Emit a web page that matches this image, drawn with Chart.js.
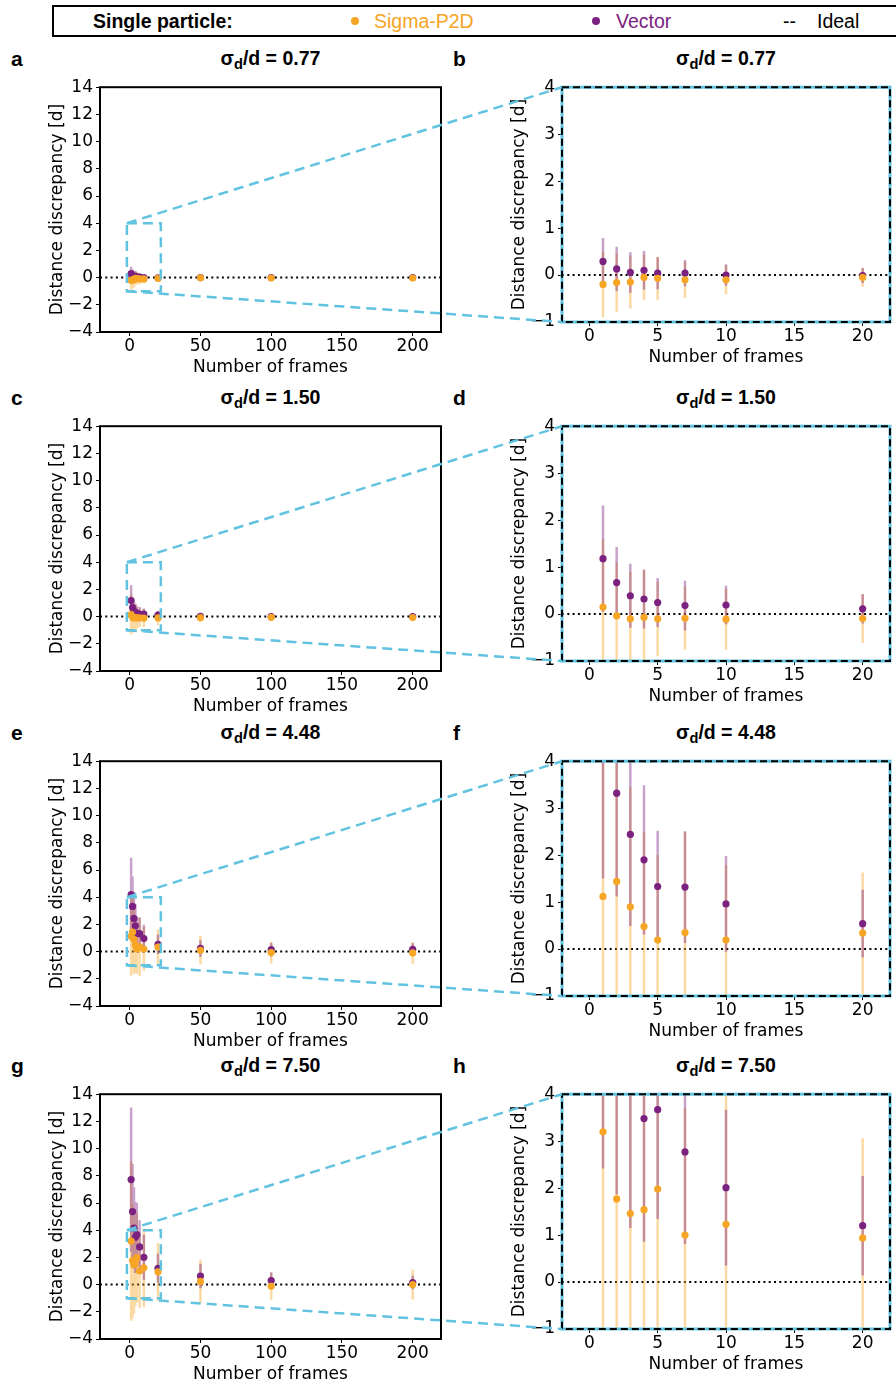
<!DOCTYPE html>
<html lang="en">
<head>
<meta charset="UTF-8">
<title>Distance discrepancy vs number of frames</title>
<script src="https://cdn.jsdelivr.net/npm/chart.js"></script>
<style>
    body {
        margin: 0;
        width: 896px;
        height: 1385px;
        overflow: hidden;
        background: #fff;
        position: relative;
        font-family: "Liberation Sans", Arial, sans-serif;
        color: #000;
    }
    canvas { position: absolute; }
    #legend {
        position: absolute;
        left: 52px;
        top: 5px;
        width: 900px;
        height: 28px;
        border: 2px solid #000;
    }
    .lg { position: absolute; top: 2px; font-size: 19.5px; line-height: 24px; white-space: nowrap; }
    .dot { position: absolute; top: 10px; width: 8px; height: 8px; border-radius: 50%; }
    .letter { position: absolute; font-weight: bold; font-size: 21px; line-height: 21px; }
    .title { position: absolute; font-weight: bold; font-size: 19.5px; line-height: 19.5px; text-align: center; width: 300px; white-space: nowrap; }
    .title sub { font-size: 75%; vertical-align: -0.3em; line-height: 0; }
    #overlay { position: absolute; left: 0; top: 0; z-index: 5; pointer-events: none; }
</style>
</head>
<body>
<div id="legend">
    <span class="lg" style="left:39px; font-weight:bold;">Single particle:</span>
    <span class="dot" style="left:297px; background:#f6a524;"></span>
    <span class="lg" style="left:320px; color:#f6a524;">Sigma-P2D</span>
    <span class="dot" style="left:538px; background:#7b2180;"></span>
    <span class="lg" style="left:562px; color:#7b2180;">Vector</span>
    <span class="lg" style="left:729px;">--</span>
    <span class="lg" style="left:763px;">Ideal</span>
</div>
<canvas id="overlay" width="896" height="1385"></canvas>

<script>
    // frames on the x axis
    const frames = [1, 2, 3, 4, 5, 7, 10, 20, 50, 100, 200];
    const noiseLabels = ['0.77', '1.50', '4.48', '7.50'];
    const panelLetters = [['a', 'b'], ['c', 'd'], ['e', 'f'], ['g', 'h']];

    // sigma_d/d = 0.77
    const p2dMean077 = [-0.20, -0.16, -0.15, -0.05, -0.07, -0.10, -0.10, -0.05, -0.02, -0.03, -0.03];
    const p2dErr077  = [0.70, 0.62, 0.56, 0.48, 0.46, 0.39, 0.31, 0.20, 0.12, 0.09, 0.06];
    const vecMean077 = [0.29, 0.13, 0.055, 0.10, 0.04, 0.04, 0.00, -0.01, 0.00, 0.00, 0.00];
    const vecErr077  = [0.50, 0.47, 0.43, 0.41, 0.34, 0.28, 0.23, 0.16, 0.10, 0.07, 0.05];

    // sigma_d/d = 1.50
    const p2dMean150 = [0.15, -0.04, -0.10, -0.07, -0.10, -0.09, -0.11, -0.095, -0.08, -0.05, -0.07];
    const p2dErr150  = [1.45, 1.15, 1.00, 1.00, 0.79, 0.67, 0.65, 0.52, 0.30, 0.22, 0.16];
    const vecMean150 = [1.18, 0.67, 0.39, 0.32, 0.245, 0.18, 0.19, 0.11, 0.02, 0.00, 0.00];
    const vecErr150  = [1.13, 0.76, 0.68, 0.63, 0.52, 0.53, 0.41, 0.31, 0.20, 0.15, 0.10];

    // sigma_d/d = 4.48
    const p2dMean448 = [1.12, 1.44, 0.90, 0.48, 0.19, 0.35, 0.19, 0.34, 0.10, -0.07, -0.10];
    const p2dErr448  = [2.90, 2.60, 2.55, 2.02, 1.81, 2.15, 1.60, 1.29, 1.05, 0.80, 0.80];
    const vecMean448 = [4.20, 3.32, 2.44, 1.90, 1.33, 1.32, 0.96, 0.54, 0.23, 0.14, 0.16];
    const vecErr448  = [2.70, 2.20, 1.95, 1.59, 1.19, 1.19, 1.02, 0.72, 0.60, 0.50, 0.45];

    // sigma_d/d = 7.50
    const p2dMean750 = [3.20, 1.77, 1.46, 1.54, 1.98, 1.00, 1.23, 0.94, 0.23, -0.12, 0.00];
    const p2dErr750  = [5.85, 4.20, 3.60, 3.10, 3.30, 2.70, 2.90, 2.12, 1.60, 1.00, 1.10];
    const vecMean750 = [7.72, 5.37, 4.15, 3.48, 3.67, 2.77, 2.01, 1.20, 0.63, 0.30, 0.15];
    const vecErr750  = [5.30, 3.50, 3.00, 2.62, 2.33, 1.96, 1.66, 1.06, 0.90, 0.60, 0.50];

    // axes
    const wideXRange = [-21, 220];
    const wideYRange = [-4, 14];
    const zoomXRange = [-2, 22];
    const zoomYRange = [-1, 4];
    const wideXTicks = [0, 50, 100, 150, 200];
    const wideYTicks = [-4, -2, 0, 2, 4, 6, 8, 10, 12, 14];
    const zoomXTicks = [0, 5, 10, 15, 20];
    const zoomYTicks = [-1, 0, 1, 2, 3, 4];

    const rows = [
        { p2dMean: p2dMean077, p2dErr: p2dErr077, vecMean: vecMean077, vecErr: vecErr077 },
        { p2dMean: p2dMean150, p2dErr: p2dErr150, vecMean: vecMean150, vecErr: vecErr150 },
        { p2dMean: p2dMean448, p2dErr: p2dErr448, vecMean: vecMean448, vecErr: vecErr448 },
        { p2dMean: p2dMean750, p2dErr: p2dErr750, vecMean: vecMean750, vecErr: vecErr750 }
    ];

    const ORANGE = '#f6a524';
    const PURPLE = '#7b2180';
    const ORANGE_ERR = 'rgba(246, 165, 36, 0.42)';
    const PURPLE_ERR = 'rgba(123, 33, 128, 0.42)';
    const CYAN = '#62c3e0';

    // page layout (pixels)
    const rowTops = [78, 417, 752, 1085];
    const wideBox = { left: 100, width: 341, height: 254 };
    const zoomBox = { left: 562, width: 328, height: 244 };
    const Y_AXIS_W = 53, X_AXIS_H = 46, PAD_T = 4, PAD_R = 4;

    Chart.defaults.color = '#000';
    Chart.defaults.font.family = '"DejaVu Sans", sans-serif';

    const minus = v => (v < 0 ? '\u2212' + Math.abs(v) : String(v));

    function errSegments(mean, err) {
        const pts = [];
        frames.forEach((f, i) => {
            pts.push({ x: f, y: mean[i] - err[i] });
            pts.push({ x: f, y: mean[i] + err[i] });
            pts.push({ x: f, y: null });
        });
        return pts;
    }

    const framePlugin = {
        id: 'frame',
        afterDraw(chart, args, opts) {
            const { ctx, chartArea: a } = chart;
            ctx.save();
            if (opts.zoom) {
                ctx.strokeStyle = CYAN;
                ctx.lineWidth = 3;
                ctx.strokeRect(a.left, a.top, a.right - a.left, a.bottom - a.top);
                ctx.strokeStyle = '#000';
                ctx.lineWidth = 2;
                ctx.setLineDash([7, 4]);
                ctx.strokeRect(a.left, a.top, a.right - a.left, a.bottom - a.top);
            } else {
                ctx.strokeStyle = '#000';
                ctx.lineWidth = 2;
                ctx.strokeRect(a.left, a.top, a.right - a.left, a.bottom - a.top);
                // zoom region marker
                const x = chart.scales.x, y = chart.scales.y;
                const x0 = x.getPixelForValue(zoomXRange[0]), x1 = x.getPixelForValue(zoomXRange[1]);
                const y0 = y.getPixelForValue(zoomYRange[0]), y1 = y.getPixelForValue(zoomYRange[1]);
                ctx.strokeStyle = CYAN;
                ctx.lineWidth = 2.5;
                ctx.setLineDash([10, 6]);
                ctx.strokeRect(x0, y1, x1 - x0, y0 - y1);
            }
            ctx.restore();
        }
    };

    function makeChart(row, zoom, top) {
        const box = zoom ? zoomBox : wideBox;
        const xr = zoom ? zoomXRange : wideXRange;
        const yr = zoom ? zoomYRange : wideYRange;
        const xt = zoom ? zoomXTicks : wideXTicks;
        const yt = zoom ? zoomYTicks : wideYTicks;

        const canvas = document.createElement('canvas');
        canvas.width = Y_AXIS_W + box.width + PAD_R;
        canvas.height = PAD_T + box.height + X_AXIS_H;
        canvas.style.left = (box.left - Y_AXIS_W) + 'px';
        canvas.style.top = (top - PAD_T) + 'px';
        document.body.appendChild(canvas);

        const axisFont = { family: '"DejaVu Sans", sans-serif', size: 17 };
        const tickGrid = { drawOnChartArea: false, drawTicks: true, tickLength: 4, color: '#000', lineWidth: 1 };

        return new Chart(canvas, {
            type: 'scatter',
            data: {
                datasets: [
                    {
                        type: 'scatter', label: 'Sigma-P2D',
                        data: frames.map((f, i) => ({ x: f, y: row.p2dMean[i] })),
                        backgroundColor: ORANGE, borderWidth: 0, pointRadius: 3.6, order: 0
                    },
                    {
                        type: 'scatter', label: 'Vector',
                        data: frames.map((f, i) => ({ x: f, y: row.vecMean[i] })),
                        backgroundColor: PURPLE, borderWidth: 0, pointRadius: 3.6, order: 1
                    },
                    {
                        type: 'line', label: 'Vector error',
                        data: errSegments(row.vecMean, row.vecErr),
                        borderColor: PURPLE_ERR, borderWidth: 2.5, pointRadius: 0,
                        spanGaps: false, borderCapStyle: 'butt', order: 2
                    },
                    {
                        type: 'line', label: 'Sigma-P2D error',
                        data: errSegments(row.p2dMean, row.p2dErr),
                        borderColor: ORANGE_ERR, borderWidth: 2.5, pointRadius: 0,
                        spanGaps: false, borderCapStyle: 'butt', order: 3
                    },
                    {
                        type: 'line', label: 'Ideal',
                        data: [{ x: xr[0], y: 0 }, { x: xr[1], y: 0 }],
                        borderColor: '#000', borderWidth: 2, borderDash: [2, 3.3],
                        pointRadius: 0, order: 4
                    }
                ]
            },
            options: {
                responsive: false,
                animation: false,
                events: [],
                layout: { padding: { top: PAD_T, right: PAD_R, left: 0, bottom: 0 } },
                plugins: {
                    legend: { display: false },
                    tooltip: { enabled: false },
                    frame: { zoom: zoom }
                },
                scales: {
                    x: {
                        type: 'linear', min: xr[0], max: xr[1], offset: false,
                        afterBuildTicks: s => { s.ticks = xt.map(v => ({ value: v })); },
                        afterFit: s => { s.height = X_AXIS_H; },
                        grid: tickGrid,
                        border: { display: false },
                        ticks: { font: axisFont, padding: 0, maxRotation: 0, autoSkip: false, callback: minus },
                        title: { display: true, text: 'Number of frames', font: axisFont, padding: 0 }
                    },
                    y: {
                        type: 'linear', min: yr[0], max: yr[1], stacked: false,
                        afterBuildTicks: s => { s.ticks = yt.map(v => ({ value: v })); },
                        afterFit: s => { s.width = Y_AXIS_W; },
                        grid: tickGrid,
                        border: { display: false },
                        ticks: { font: axisFont, padding: 3, autoSkip: false, callback: minus },
                        title: { display: true, text: 'Distance discrepancy [d]', font: axisFont, padding: 0 }
                    }
                }
            },
            plugins: [framePlugin]
        });
    }

    function addText(cls, html, left, top) {
        const d = document.createElement('div');
        d.className = cls;
        d.innerHTML = html;
        d.style.left = left + 'px';
        d.style.top = top + 'px';
        document.body.appendChild(d);
    }

    const pairs = rows.map((row, r) => {
        const top = rowTops[r];
        const wide = makeChart(row, false, top);
        const zoom = makeChart(row, true, top);
        const title = '\u03c3<sub>d</sub>/d = ' + noiseLabels[r];
        addText('title', title, wideBox.left + wideBox.width / 2 - 150, top - 29);
        addText('title', title, zoomBox.left + zoomBox.width / 2 - 150, top - 29);
        addText('letter', panelLetters[r][0], 11, top - 30);
        addText('letter', panelLetters[r][1], 453, top - 30);
        return { wide, zoom };
    });

    // dashed connectors from the zoom box in the wide panel to the zoomed panel
    const octx = document.getElementById('overlay').getContext('2d');
    octx.strokeStyle = CYAN;
    octx.lineWidth = 2.5;
    octx.setLineDash([10, 6]);
    pairs.forEach(({ wide, zoom }) => {
        const wl = wide.canvas.offsetLeft, wt = wide.canvas.offsetTop;
        const zl = zoom.canvas.offsetLeft, zt = zoom.canvas.offsetTop;
        const ax = wl + wide.scales.x.getPixelForValue(zoomXRange[0]);
        const bx = zl + zoom.scales.x.getPixelForValue(zoomXRange[0]);
        [zoomYRange[1], zoomYRange[0]].forEach(v => {
            octx.beginPath();
            octx.moveTo(ax, wt + wide.scales.y.getPixelForValue(v));
            octx.lineTo(bx, zt + zoom.scales.y.getPixelForValue(v));
            octx.stroke();
        });
    });
</script>
</body>
</html>
